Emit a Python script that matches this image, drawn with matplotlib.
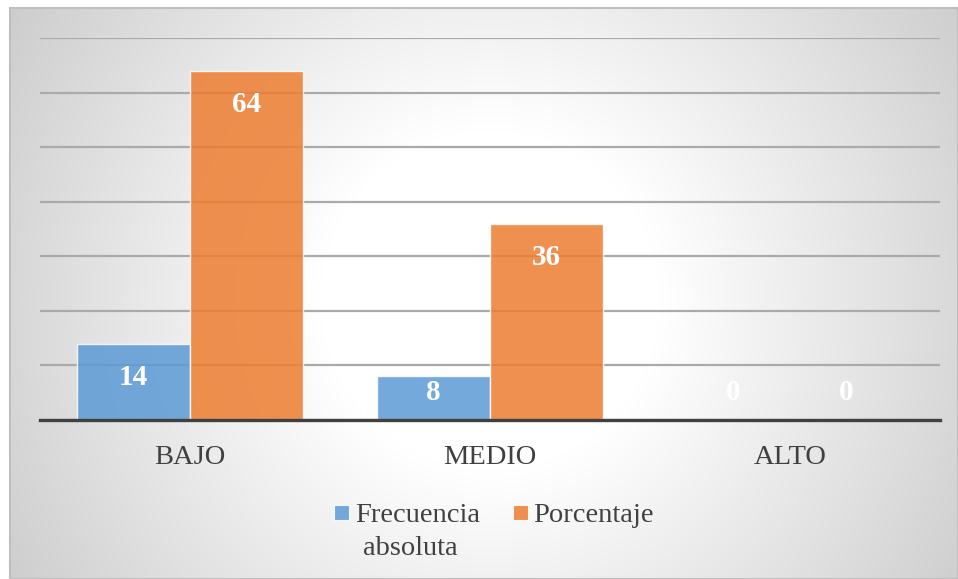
import numpy as np
import matplotlib
matplotlib.use("Agg")
from matplotlib import pyplot as plt
from matplotlib.patches import Rectangle

# Datos del gráfico
categorias = ["BAJO", "MEDIO", "ALTO"]
frecuencia = [14, 8, 0]
porcentaje = [64, 36, 0]
series = ["Frecuencia absoluta", "Porcentaje"]

AZUL = "#5B9BD5"
NARANJA = "#ED7D31"
TEXTO = "#404040"
SERIF = ["Liberation Serif", "DejaVu Serif"]

W, H = 958, 579

def px(x, y):
    # pixeles de la imagen -> fracción de la figura
    return x / W, 1 - y / H

fig = plt.figure(figsize=(W / 100, H / 100), dpi=100)
fig.patch.set_facecolor("white")

# Fondo del área del gráfico con degradado radial
bg = fig.add_axes([10 / W, 0, (W - 10) / W, (H - 8) / H])
xs = np.arange(10, W)
ys = np.arange(8, H)
gx, gy = np.meshgrid(xs, ys)
d = np.hypot(gx - 490, gy - 300)
gris = 1 - 0.21 * np.clip((d - 170) / 420, 0, 1.2)
bg.imshow(np.dstack([gris, gris, gris]), aspect="auto", extent=(0, 1, 0, 1))
bg.set_xticks([])
bg.set_yticks([])
for s in bg.spines.values():
    s.set_color("#bfbfbf")
    s.set_linewidth(1.5)

# Área de trazado
l, b = px(40, 420)
ax = fig.add_axes([l, b, 900 / W, 382 / H])
ax.set_facecolor("none")
ax.set_xlim(-0.5, 2.5)
ax.set_ylim(0, 70)
ax.set_yticks(range(0, 80, 10))
ax.yaxis.grid(True, color="#aaaaaa", linewidth=1.6)
ax.set_axisbelow(True)
ax.tick_params(length=0, labelleft=False, labelbottom=False)
for lado in ("left", "right", "top"):
    ax.spines[lado].set_visible(False)
ax.spines["bottom"].set_color(TEXTO)
ax.spines["bottom"].set_linewidth(2.4)

x = np.arange(len(categorias))
ancho = 0.377
b1 = ax.bar(x - ancho / 2, frecuencia, ancho, color=AZUL, alpha=0.85,
            edgecolor=(1, 1, 1, 0.5), linewidth=1)
b2 = ax.bar(x + ancho / 2, porcentaje, ancho, color=NARANJA, alpha=0.85,
            edgecolor=(1, 1, 1, 0.5), linewidth=1)

# Etiquetas de valor (extremo interior, mínimo sobre la base)
for barras, valores in ((b1, frecuencia), (b2, porcentaje)):
    for rect, v in zip(barras, valores):
        yv = max(v - 6.2, 5.0)
        ax.text(rect.get_x() + rect.get_width() / 2, yv, str(v),
                ha="center", va="center", color="white", fontsize=21,
                fontweight="bold", family=SERIF)

# Categorías
for xi, cat in zip(x, categorias):
    ax.text(xi, -37 / 382, cat, transform=ax.get_xaxis_transform(),
            ha="center", va="center", fontsize=20.5, color=TEXTO, family=SERIF)

# Leyenda
for (x0, color) in ((334, AZUL), (513, NARANJA)):
    fx, fy = px(x0, 520)
    fig.patches.append(Rectangle((fx, fy), 15 / W, 15 / H, transform=fig.transFigure,
                                 facecolor=color, alpha=0.85, edgecolor=(1, 1, 1, 0.6),
                                 linewidth=0.8))
fig.text(*px(355, 522), "Frecuencia", ha="left", va="baseline",
         fontsize=20.5, color=TEXTO, family=SERIF)
fig.text(*px(363, 555), "absoluta", ha="left", va="baseline",
         fontsize=20.5, color=TEXTO, family=SERIF)
fig.text(*px(533, 522), series[1], ha="left", va="baseline",
         fontsize=20.5, color=TEXTO, family=SERIF)

fig.savefig("out.png", dpi=100)
